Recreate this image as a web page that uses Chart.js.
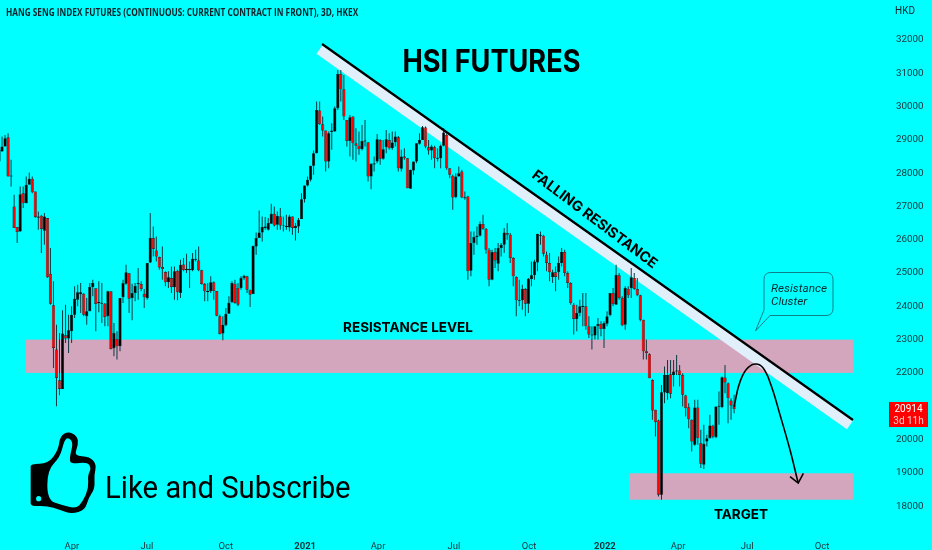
<!DOCTYPE html>
<html>
<head>
<meta charset="utf-8">
<title>HSI Futures</title>
<script src="https://cdn.jsdelivr.net/npm/chart.js@4"></script>
<style>
  html, body { margin: 0; padding: 0; background: #00ffff; }
  canvas { display: block; }
</style>
</head>
<body>
<canvas id="chart" width="932" height="550"></canvas>
<script>
// 3D candles
const opens = [
  28350,28650,28800,29080,27900,27000,26380,26250,27400,27100,
  27650,27830,27450,26660,26720,26270,26650,24980,24030,22700,
  21780,21520,23130,23030,23250,23750,24200,24360,24380,23700,
  23850,24580,24540,24130,24110,24080,23700,24450,22740,23020,
  22800,24270,24680,24990,24250,24400,24660,24670,24380,24240,
  25320,26050,25680,25480,25180,25030,24720,24850,24570,25070,
  24400,25260,25080,25120,25080,25400,25380,25080,24670,24430,
  24450,24720,24460,23700,23180,23430,23780,24120,24680,24550,
  24550,24850,24900,24500,24370,25800,26050,26220,26350,26300,
  26480,26780,26450,26700,26430,26380,26370,26700,26350,26400,
  26620,27220,27630,27800,28220,28600,29880,29470,29280,28350,
  29240,29250,29950,30980,30520,29600,28970,29700,28900,28820,
  28720,28950,28930,27900,28260,28350,29000,28430,28780,29000,
  28750,28930,29080,28130,28500,28450,27530,28080,28350,28880,
  29000,29370,28780,28680,28780,28430,28450,28820,29150,28150,
  27920,27280,27900,28050,27250,27300,25070,25900,26080,26120,
  26470,26330,25700,24800,25630,25280,25750,25850,26200,26150,
  25450,24880,24160,24180,24520,24080,24820,24930,25320,26150,
  26120,25550,25300,24880,25020,25020,25300,25630,25000,24700,
  24050,23620,23800,23980,24000,23400,23120,23120,23400,23470,
  23320,23480,23730,24400,24050,24930,24250,23450,24530,24550,
  24850,24520,24330,23600,22650,22560,21790,20890,20570,18340,
  21410,21390,21960,21940,22040,22070,21940,21320,20970,20590,
  19840,20960,19890,19240,19940,20040,20410,20070,20980,20970,
  21860,21690,21170,21040
];
const highs = [
  28900,29100,29150,29200,28400,27350,26380,27600,27600,27900,
  28020,27900,27450,26850,26750,26800,26650,25750,24750,23450,
  23200,23880,24050,23750,24000,24600,24650,24700,24400,24250,
  24700,24800,24540,24750,24700,24100,24470,24450,23500,23250,
  24250,24800,25250,25000,24680,24700,25150,24750,24520,25300,
  26800,26400,26100,25500,25800,25050,25050,25200,25200,25100,
  25400,25450,25580,25350,25600,25700,25800,25100,24700,24700,
  24900,24750,24460,23750,23700,23950,24300,24750,24800,24700,
  24900,24950,24920,24500,25820,26220,26880,26700,26680,26650,
  27080,27000,26850,26950,26700,26750,26750,26700,26500,26650,
  27400,27630,27900,28220,28680,30150,30150,29700,29280,29250,
  29500,30000,31100,31100,30950,29600,29750,29700,29350,29250,
  29450,29600,28930,28300,28500,29180,29020,29000,29300,29200,
  29250,29250,29120,28700,28750,28450,28100,28350,28900,29200,
  29420,29400,29000,28850,28820,28750,28850,29350,29200,28150,
  27950,28000,28200,28100,27450,27320,26250,26250,26400,26550,
  26750,26350,25750,25700,25750,25900,25900,26350,26500,26200,
  25480,24900,24800,24650,24550,24850,25350,25400,26180,26250,
  26150,25650,25600,25100,25200,25500,25750,25700,25050,24720,
  24100,24050,24200,24400,24400,23700,23400,23400,23650,23550,
  23550,23850,24400,24550,25250,25000,24300,24600,24600,25150,
  25000,24850,24350,23600,23000,22590,21810,20890,20590,21640,
  22190,22390,22390,22390,22540,22240,21990,21340,21090,20610,
  21190,21190,20290,20440,20140,20740,20440,20990,21440,21890,
  22240,21710,21240,21340
];
const lows = [
  28350,28650,28800,27900,27600,26350,25900,26250,26950,27100,
  27650,27400,26650,26300,25600,25850,24850,24050,22150,21000,
  21330,21520,22900,22600,22900,23650,24000,23800,23700,23450,
  23850,24300,23250,23820,23500,23400,23400,22700,22500,22400,
  22650,24100,24650,23800,23580,24150,24200,24450,23950,24200,
  25300,25500,25350,25100,24800,24600,24550,24400,24200,24180,
  24250,25050,25000,24550,25050,25350,25050,24650,24150,24150,
  24400,24200,23700,23150,22980,23400,23780,24100,24080,24000,
  24500,24800,24400,23980,24370,25550,26050,25950,26300,26280,
  26480,26400,26300,26300,26250,26300,26250,26150,25980,26200,
  26620,27120,27600,27750,27950,28600,29450,29100,28050,28150,
  28700,29250,29900,30150,29600,28800,28500,28400,28350,28550,
  28680,28800,27750,27520,28050,28300,28250,28400,28600,28700,
  28700,28800,28050,28050,28400,27550,27530,27950,28300,28850,
  29000,28750,28550,28400,28150,28350,28150,28800,28100,27850,
  26900,27250,27900,27250,27200,24800,24900,25550,25850,26100,
  26300,25580,24600,24780,25150,25050,25500,25600,26000,25300,
  24600,23700,24000,23900,23700,23800,24600,24800,25050,25850,
  25500,25050,24750,24700,24450,24800,25200,24900,24550,24050,
  23150,23250,23700,23400,23300,23050,22700,23000,23000,23100,
  22750,23400,23700,24000,24050,24200,23400,23300,24250,24250,
  24500,24300,23550,22400,22400,21840,20590,20090,18290,18190,
  21090,21190,21240,21590,21940,21590,20990,20690,20340,19640,
  19810,19840,19140,19110,19790,20020,20040,20040,20440,20940,
  21390,20490,20590,20790
];
const closes = [
  28700,28800,29050,27900,27930,26350,26230,27370,27100,27650,
  27830,27430,26680,26700,26320,26700,24870,24080,22750,21850,
  21520,23180,23030,23280,23750,24230,24420,24420,23750,23850,
  24580,24700,24070,24100,24080,23680,24450,22720,23200,22800,
  24250,24700,25020,24230,24400,24620,24700,24520,24270,25300,
  26060,25720,25500,25170,25120,24720,24870,24580,25050,24420,
  25250,25080,25130,25080,25430,25430,25080,24670,24450,24460,
  24720,24460,23720,23170,23450,23780,24110,24700,24100,24050,
  24850,24920,24500,24350,25820,26050,26220,26380,26400,26500,
  26780,26430,26720,26430,26410,26420,26700,26350,26420,26600,
  27220,27630,27800,28220,28600,29900,29470,29280,28350,29200,
  29280,29950,30980,30520,29700,28970,29680,28900,28820,28720,
  28970,28980,27900,28280,28300,29020,28430,28720,29020,28750,
  28920,29100,28150,28500,28450,27550,28100,28350,28900,29000,
  29380,28800,28680,28800,28450,28460,28820,29220,28150,27950,
  27270,27900,28000,27270,27280,25050,25900,26080,26120,26470,
  26330,25700,24800,25630,25380,25750,25850,26220,26150,25450,
  24900,24180,24180,24530,24080,24830,24930,25350,26170,26120,
  25580,25300,25020,25020,24880,25300,25630,25000,24700,24100,
  23620,23800,24000,24020,23400,23150,23150,23400,23470,23320,
  23500,23700,24400,24070,24950,24250,23430,24550,24330,24870,
  24520,24330,23600,22650,22600,21840,20870,20520,18340,21420,
  21940,21940,21370,22040,22070,21940,21340,20940,20610,19940,
  20960,20040,19270,19870,20040,20420,20090,20990,21010,21870,
  21710,21240,21020,20914
];

// axes
const priceTicks = [18000,19000,20000,21000,22000,23000,24000,25000,26000,27000,28000,29000,30000,31000,32000];
const timeTickBars = [24.1,48.9,75,101.2,125.3,150.4,175.2,200.3,224.5,247.3,272.1];
const timeTickLabels = ['Apr','Jul','Oct','2021','Apr','Jul','Oct','2022','Apr','Jul','Oct'];
const yearLabels = ['2021','2022'];

// drawings on the chart, [bar index, price]
const fallingLine = [[106.8,31880],[282.3,20585]];
const fallingBand = [[105.95,31715],[281.3,20435]];
const forecastCurve = [[243,20975],[244.6,21636],[246.9,22087],[249.9,22267],[252.6,22147],[255.2,21636],[258.2,20735],[261.5,19684],[264.1,18722]];
const arrowHead = [[261.5,18881],[264.2,18692],[265.9,18984]];
const zoneResistance = [8.9,282.3,22000,23000];
const zoneTarget = [208.3,282.3,18190,18985];

const toPoints = rows => rows.map(r => ({ x: r[0], y: r[1] }));
const barIndex = opens.map((_, i) => i);

const BLACK = '#000000';
const RED = '#ff0000';

function lineSet(rows, color, width, order, tension) {
  return {
    type: 'line',
    data: toPoints(rows),
    borderColor: color,
    borderWidth: width,
    pointRadius: 0,
    tension: tension || 0,
    order: order,
    borderCapStyle: 'butt'
  };
}

// text squeezed sideways, the original font is narrower than what is installed
function squeezedText(ctx, text, x, y, sx) {
  ctx.save();
  ctx.translate(x, y);
  ctx.scale(sx, 1);
  ctx.fillText(text, 0, 0);
  ctx.restore();
}

// Everything that sits on top of or behind the candles without being data
const overlay = {
  id: 'overlay',
  beforeDatasetsDraw(chart) {
    const { ctx, scales: { x, y } } = chart;
    ctx.save();
    [zoneResistance, zoneTarget].forEach(z => {
      const left = x.getPixelForValue(z[0]);
      const right = x.getPixelForValue(z[1]);
      const top = y.getPixelForValue(z[3]);
      const bottom = y.getPixelForValue(z[2]);
      ctx.fillStyle = '#d3a6be';
      ctx.fillRect(left, top, right - left, bottom - top);
    });
    ctx.restore();
  },
  afterDraw(chart) {
    const { ctx } = chart;
    ctx.save();
    ctx.textBaseline = 'alphabetic';
    ctx.textAlign = 'left';

    ctx.fillStyle = '#10222a';
    ctx.font = '700 10px "Open Sans"';
    squeezedText(ctx, 'HANG SENG INDEX FUTURES (CONTINUOUS: CURRENT CONTRACT IN FRONT), 3D, HKEX', 6, 16, 0.825);
    ctx.font = '10px Roboto';
    ctx.fillText('HKD', 895, 14);

    ctx.fillStyle = '#000';
    ctx.textAlign = 'center';
    ctx.font = '700 31px Inter';
    squeezedText(ctx, 'HSI FUTURES', 491.5, 72, 0.875);
    ctx.font = '700 13.5px Inter';
    ctx.fillText('RESISTANCE LEVEL', 408, 332);
    ctx.fillText('TARGET', 741, 519);

    ctx.save();
    ctx.translate(592, 223);
    ctx.rotate(37 * Math.PI / 180);
    ctx.font = '700 14.3px Inter';
    ctx.fillText('FALLING RESISTANCE', 0, 0);
    ctx.restore();

    ctx.textAlign = 'left';
    ctx.font = '31px Roboto';
    squeezedText(ctx, 'Like and Subscribe', 105, 498, 0.945);

    // callout
    ctx.strokeStyle = '#0e7f88';
    ctx.lineWidth = 1;
    ctx.beginPath();
    ctx.moveTo(771, 272.5);
    ctx.lineTo(826, 272.5);
    ctx.quadraticCurveTo(833, 272.5, 833, 279.5);
    ctx.lineTo(833, 308.5);
    ctx.quadraticCurveTo(833, 315.5, 826, 315.5);
    ctx.lineTo(770, 315.5);
    ctx.lineTo(755.5, 331);
    ctx.lineTo(764, 310);
    ctx.lineTo(764, 279.5);
    ctx.quadraticCurveTo(764, 272.5, 771, 272.5);
    ctx.stroke();
    ctx.fillStyle = '#0a2a30';
    ctx.font = 'italic 11.8px Roboto';
    ctx.fillText('Resistance', 771, 292);
    ctx.fillText('Cluster', 771, 305);

    // last price tag
    ctx.fillStyle = '#ff0000';
    ctx.fillRect(889, 402, 39, 25);
    ctx.textAlign = 'center';
    ctx.fillStyle = '#ffffff';
    ctx.font = '10px Roboto';
    ctx.fillText('20914', 908.5, 412);
    ctx.fillStyle = '#ffd0d0';
    ctx.fillText('3d 11h', 908.5, 424);

    drawThumb(ctx);
    ctx.restore();
  }
};

// thumbs up icon, outline then cut out, corners smoothed through the midpoints
function drawThumb(ctx) {
  const outer = [[92,145],[92,132],[145,130],[175,90],[180,48],[205,34],[232,48],[235,75],[222,108],[270,110],[290,135],[282,165],[285,205],[265,235],[255,270],[215,282],[180,270],[140,257],[92,259],[92,240]];
  const inner = [[142,150],[180,112],[193,60],[205,52],[220,68],[208,115],[213,132],[262,126],[274,145],[263,165],[266,205],[248,245],[228,266],[185,255],[142,240]];
  const path = new Path2D();
  const mx = v => v / 3;
  const my = v => 420 + v / 3;
  [outer, inner].forEach(shape => {
    const last = shape[shape.length - 1];
    path.moveTo(mx((last[0] + shape[0][0]) / 2), my((last[1] + shape[0][1]) / 2));
    shape.forEach((p, i) => {
      const next = shape[(i + 1) % shape.length];
      path.quadraticCurveTo(mx(p[0]), my(p[1]), mx((p[0] + next[0]) / 2), my((p[1] + next[1]) / 2));
    });
    path.closePath();
  });
  ctx.fillStyle = '#000';
  ctx.fill(path, 'evenodd');
  ctx.fillStyle = '#00ffff';
  ctx.beginPath();
  ctx.arc(116 / 3, 420 + 236 / 3, 2.6, 0, Math.PI * 2);
  ctx.fill();
}

new Chart(document.getElementById('chart'), {
  type: 'bar',
  data: {
    datasets: [
      lineSet(fallingBand, '#e1effa', 10.5, 5),
      {
        // wicks
        data: barIndex.map(i => ({ x: i, y: [lows[i], highs[i]] })),
        backgroundColor: '#0a3a42',
        barThickness: 1,
        grouped: false,
        inflateAmount: 0,
        order: 4
      },
      {
        // bodies
        data: barIndex.map(i => ({ x: i, y: [opens[i], closes[i]] })),
        backgroundColor: barIndex.map(i => closes[i] < opens[i] ? RED : BLACK),
        borderColor: BLACK,
        borderWidth: 0.5,
        borderSkipped: false,
        barThickness: 3.2,
        grouped: false,
        inflateAmount: 0,
        order: 3
      },
      lineSet(fallingLine, BLACK, 2.2, 2),
      lineSet(forecastCurve, BLACK, 1.6, 1, 0.4),
      lineSet(arrowHead, BLACK, 1.6, 0)
    ]
  },
  plugins: [overlay],
  options: {
    responsive: false,
    animation: false,
    layout: { padding: 0 },
    plugins: { legend: { display: false }, title: { display: false }, tooltip: { enabled: false } },
    scales: {
      x: {
        type: 'linear',
        offset: false,
        min: 0.33,
        max: 293.55,
        grid: { display: false },
        border: { display: false },
        afterFit(scale) {
          scale.height = 25;
          scale.paddingLeft = 0;
          scale.paddingRight = 0;
        },
        afterBuildTicks(scale) { scale.ticks = timeTickBars.map(v => ({ value: v })); },
        ticks: {
          autoSkip: false,
          maxRotation: 0,
          padding: 8,
          color: '#1d3238',
          font: ctx => ({
            family: 'Roboto',
            size: 9.5,
            weight: yearLabels.includes(timeTickLabels[ctx.index]) ? '700' : '400'
          }),
          callback: (value, index) => timeTickLabels[index]
        }
      },
      y: {
        position: 'right',
        min: 17431,
        max: 33202,
        grid: { display: false, drawTicks: false },
        border: { display: false },
        afterFit(scale) {
          scale.width = 45;
          scale.paddingTop = 0;
          scale.paddingBottom = 0;
        },
        afterBuildTicks(scale) { scale.ticks = priceTicks.map(v => ({ value: v })); },
        ticks: {
          padding: 9,
          color: '#1d3238',
          font: { family: 'Roboto', size: 9.8 },
          callback: value => String(value)
        }
      }
    }
  }
});
</script>
</body>
</html>
